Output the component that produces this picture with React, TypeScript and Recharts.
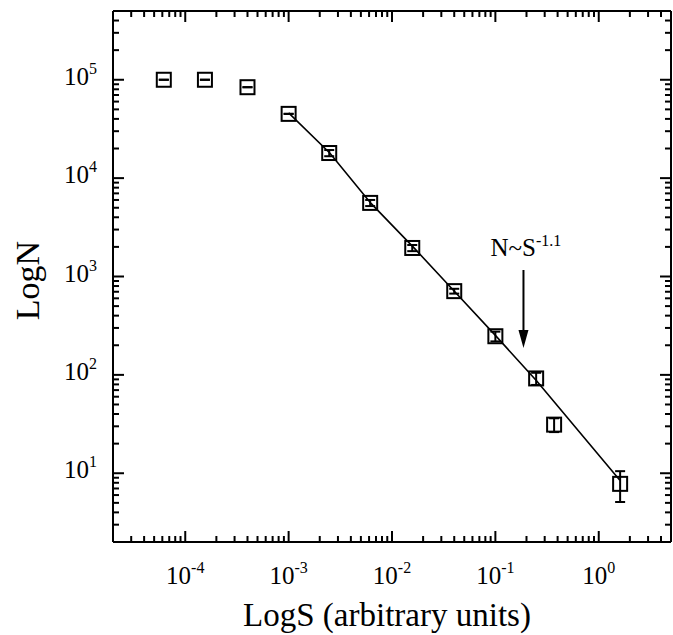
import React from "react";
import {
  ComposedChart,
  XAxis,
  YAxis,
  Line,
  Scatter,
  ErrorBar,
  ReferenceLine,
  Label,
} from "recharts";

// measured points (S, N) with vertical error
const pointS = [6.2e-5, 1.55e-4, 4.0e-4, 1.0e-3, 2.47e-3, 6.15e-3, 1.57e-2, 4.0e-2, 0.1, 0.248, 0.37, 1.61];
const pointN = [1.0e5, 1.0e5, 8.4e4, 4.5e4, 1.8e4, 5.6e3, 1.95e3, 710, 247, 92, 31.2, 7.8];
const pointErr = [300, 300, 250, 150, 1300, 400, 140, 40, 28, 13, 5, 2.7];

// fitted line N ~ S^-1.1
const fitS = [1.0e-3, 2.5e-3, 6.3e-3, 1.65e-2, 4.05e-2, 0.1, 0.25, 1.6];
const fitN = [4.6e4, 1.8e4, 5.5e3, 1.93e3, 700, 252, 87, 8.5];

// axes
const xDomain = [2e-5, 5];
const yDomain = [2, 5e5];
const xMajor = [1e-5, 1e-4, 1e-3, 1e-2, 1e-1, 1];
const yMajor = [1, 10, 100, 1e3, 1e4, 1e5];
const xLabelled = [-4, -3, -2, -1, 0];
const yLabelled = [1, 2, 3, 4, 5];

// annotation arrow
const arrowS = 0.187;
const arrowTop = 1165;
const arrowTip = 188;

const FONT = '"Liberation Serif", "Times New Roman", serif';

const withMinors = (majors: number[], dom: number[]) => {
  const out: number[] = [];
  majors.forEach((m) => {
    for (let k = 1; k <= 9; k++) {
      const v = m * k;
      if (v >= dom[0] * 1.0001 && v <= dom[1]) out.push(v);
    }
  });
  return out;
};

const xTicks = withMinors(xMajor, xDomain);
const yTicks = withMinors(yMajor, yDomain);

const points = pointS.map((s, i) => ({ s, n: pointN[i], err: pointErr[i] }));
const fit = fitS.map((s, i) => ({ s, n: fitN[i] }));

const expOf = (v: number) => {
  const e = Math.log10(v);
  return Math.abs(e - Math.round(e)) < 1e-6 ? Math.round(e) : null;
};

const makeTick = (side: string) => (p: any) => {
  const { x, y, payload } = p;
  const e = expOf(payload.value);
  const len = e !== null ? 11 : 6;
  let line;
  if (side === "bottom") line = <line x1={x} y1={y} x2={x} y2={y - len} />;
  else if (side === "top") line = <line x1={x} y1={y} x2={x} y2={y + len} />;
  else if (side === "left") line = <line x1={x} y1={y} x2={x + len} y2={y} />;
  else line = <line x1={x} y1={y} x2={x - len} y2={y} />;

  let label = null;
  if (side === "bottom" && e !== null && xLabelled.includes(e)) {
    label = (
      <text x={x} y={y + 42} textAnchor="middle" fontFamily={FONT} fontSize={25} fill="#000" stroke="none">
        10<tspan dy={-11} fontSize={16}>{e}</tspan>
      </text>
    );
  }
  if (side === "left" && e !== null && yLabelled.includes(e)) {
    label = (
      <text x={x - 16} y={y + 5} textAnchor="end" fontFamily={FONT} fontSize={25} fill="#000" stroke="none">
        10<tspan dy={-11} fontSize={16}>{e}</tspan>
      </text>
    );
  }
  return (
    <g>
      <g stroke="#000" strokeWidth={2}>{line}</g>
      {label}
    </g>
  );
};

const Square = (p: any) => (
  <rect x={p.cx - 7} y={p.cy - 7} width={14} height={14} fill="none" stroke="#000" strokeWidth={2} />
);

const Arrow = (p: any) => {
  const x = p.x1;
  const top = Math.min(p.y1, p.y2);
  const tip = Math.max(p.y1, p.y2);
  return (
    <g>
      <line x1={x} y1={top} x2={x} y2={tip - 14} stroke="#000" strokeWidth={2} />
      <polygon points={`${x - 5},${tip - 18} ${x + 5},${tip - 18} ${x},${tip}`} fill="#000" />
      <text x={x - 33} y={top - 14} fontFamily={FONT} fontSize={25} fill="#000" stroke="none">
        N~S<tspan dy={-10} fontSize={16}>-1.1</tspan>
      </text>
    </g>
  );
};

const axisLine = { stroke: "#000", strokeWidth: 2 };

export default function App() {
  return (
    <div style={{ position: "absolute", left: 0, top: 0, width: 673, height: 635, background: "#fff" }}>
      <ComposedChart width={673} height={635} margin={{ top: 10, right: 1, bottom: 0, left: 0 }}>
        <XAxis
          dataKey="s"
          type="number"
          scale="log"
          domain={xDomain}
          allowDataOverflow
          ticks={xTicks}
          interval={0}
          height={93}
          tickSize={0}
          tickMargin={0}
          tickLine={false}
          axisLine={axisLine}
          tick={makeTick("bottom")}
        >
          <Label
            content={(lp: any) => {
              const vb = lp.viewBox;
              return (
                <text x={vb.x + vb.width / 2 - 5} y={vb.y + 84} textAnchor="middle" fontFamily={FONT} fontSize={33} fill="#000">
                  LogS (arbitrary units)
                </text>
              );
            }}
          />
        </XAxis>
        <XAxis
          xAxisId="top"
          orientation="top"
          dataKey="s"
          type="number"
          scale="log"
          domain={xDomain}
          allowDataOverflow
          ticks={xTicks}
          interval={0}
          height={1}
          tickSize={0}
          tickMargin={0}
          tickLine={false}
          axisLine={axisLine}
          tick={makeTick("top")}
        />
        <YAxis
          type="number"
          scale="log"
          domain={yDomain}
          allowDataOverflow
          ticks={yTicks}
          interval={0}
          width={113}
          tickSize={0}
          tickMargin={0}
          tickLine={false}
          axisLine={axisLine}
          tick={makeTick("left")}
        >
          <Label
            content={(lp: any) => {
              const vb = lp.viewBox;
              const cx = vb.x + 39;
              const cy = vb.y + vb.height / 2 + 4;
              return (
                <text x={cx} y={cy} transform={`rotate(-90 ${cx} ${cy})`} textAnchor="middle" fontFamily={FONT} fontSize={34} fill="#000">
                  LogN
                </text>
              );
            }}
          />
        </YAxis>
        <YAxis
          yAxisId="right"
          orientation="right"
          type="number"
          scale="log"
          domain={yDomain}
          allowDataOverflow
          ticks={yTicks}
          interval={0}
          width={1}
          tickSize={0}
          tickMargin={0}
          tickLine={false}
          axisLine={axisLine}
          tick={makeTick("right")}
        />
        <Line
          data={fit}
          dataKey="n"
          type="linear"
          stroke="#000"
          strokeWidth={1.6}
          dot={false}
          activeDot={false}
          isAnimationActive={false}
        />
        <Scatter data={points} dataKey="n" shape={Square} isAnimationActive={false}>
          <ErrorBar dataKey="err" direction="y" width={5} stroke="#000" strokeWidth={2} isAnimationActive={false} />
        </Scatter>
        <ReferenceLine
          segment={[
            { x: arrowS, y: arrowTop },
            { x: arrowS, y: arrowTip },
          ]}
          shape={Arrow}
        />
      </ComposedChart>
    </div>
  );
}
